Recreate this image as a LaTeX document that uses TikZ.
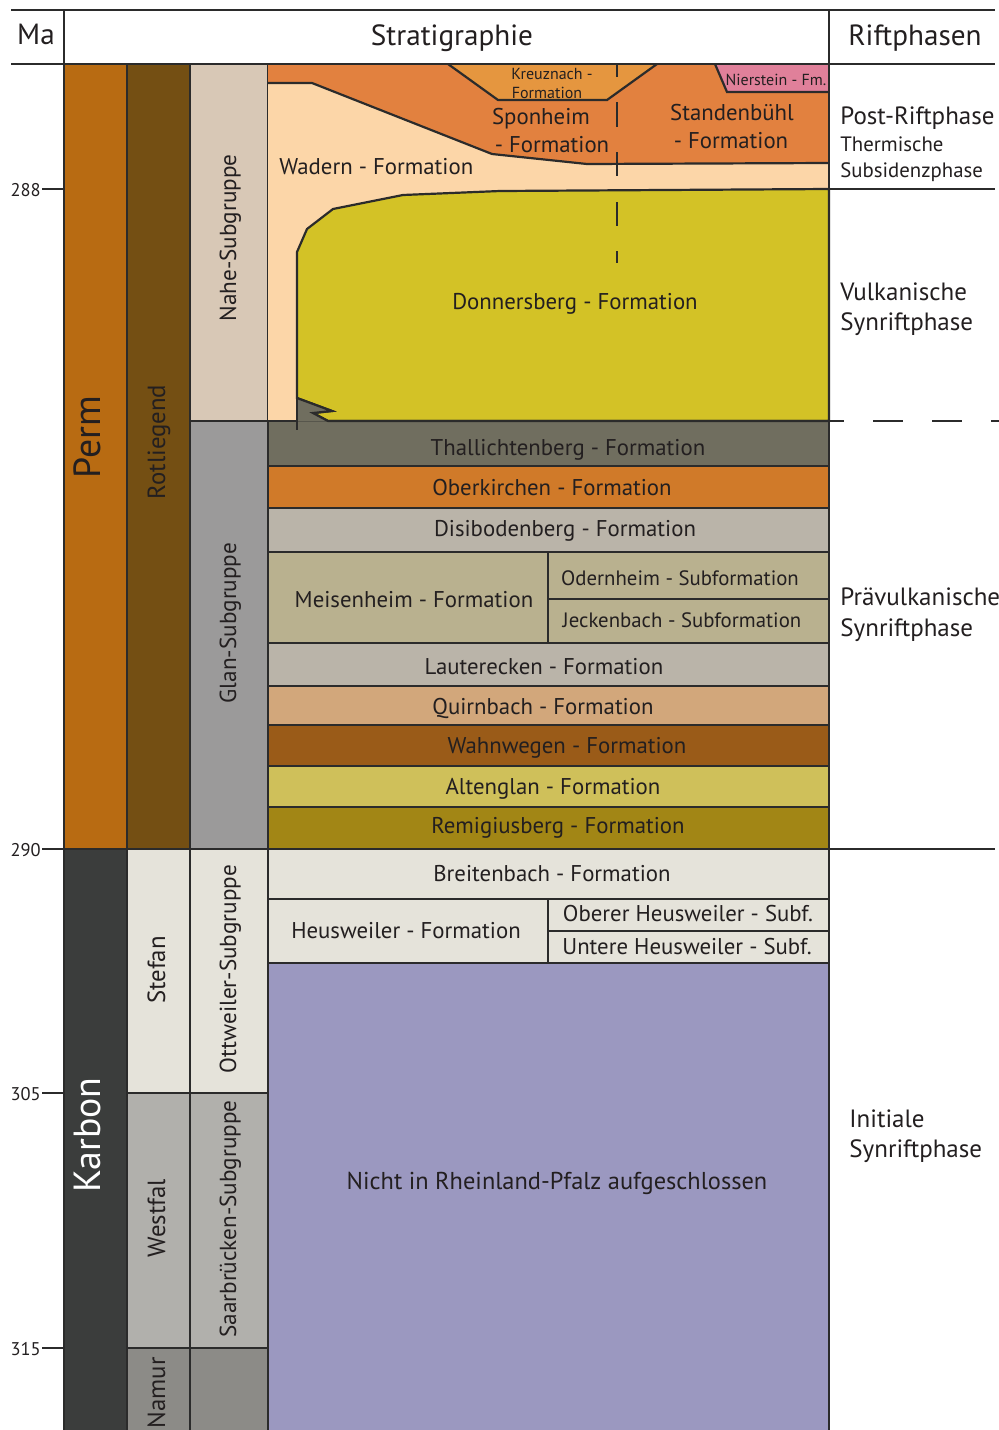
\documentclass[tikz,border=0pt]{standalone}
\usepackage{fontspec}
\setmainfont{PT Sans}
\definecolor{ink}{HTML}{231F20}
\definecolor{edge}{HTML}{2B2B2B}
\definecolor{cPerm}{HTML}{B86B12}
\definecolor{cRotl}{HTML}{744F13}
\definecolor{cNahe}{HTML}{D8C8B6}
\definecolor{cGlan}{HTML}{9B9A9A}
\definecolor{cKarb}{HTML}{3B3D3C}
\definecolor{cStef}{HTML}{E5E3DA}
\definecolor{cWest}{HTML}{B1B0AC}
\definecolor{cNamur}{HTML}{8C8B87}
\definecolor{cNicht}{HTML}{9B98C0}
\definecolor{cThal}{HTML}{706E5F}
\definecolor{cOber}{HTML}{D07A29}
\definecolor{cDisi}{HTML}{BAB4A9}
\definecolor{cMeis}{HTML}{B9B18F}
\definecolor{cQuir}{HTML}{D2A77B}
\definecolor{cWahn}{HTML}{9A5B18}
\definecolor{cAlte}{HTML}{CFC05A}
\definecolor{cRemi}{HTML}{A28615}
\definecolor{cSpon}{HTML}{E2813F}
\definecolor{cKreu}{HTML}{E5963F}
\definecolor{cNier}{HTML}{E0809A}
\definecolor{cWad}{HTML}{FCD6A8}
\definecolor{cDonn}{HTML}{D3C226}
\begin{document}
\begin{tikzpicture}[x=0.5pt,y=-0.5pt,
  blk/.style={draw=edge,line width=1.1pt},
  rule/.style={draw=edge,line width=1.1pt},
  txt/.style={inner sep=0pt,text=ink,text height=0.7em,text depth=0pt,
    font=\fontsize{11.4}{13}\selectfont},
  small/.style={txt,font=\fontsize{10.4}{12}\selectfont},
  tiny/.style={txt,font=\fontsize{8}{9}\selectfont},
  head/.style={txt,font=\fontsize{14.6}{16}\selectfont},
  side/.style={txt,anchor=west,font=\fontsize{12.5}{14}\selectfont},
  vert/.style={txt,rotate=90,font=\fontsize{11.6}{13}\selectfont},
  era/.style={vert,font=\fontsize{12.4}{14}\selectfont},
  big/.style={txt,rotate=90,font=\fontsize{18.9}{21}\selectfont},
  tick/.style={txt,anchor=east,font=\fontsize{9.2}{11}\selectfont}]
\useasboundingbox (0,0) rectangle (999,1430);
\fill[white] (0,0) rectangle (999,1430);

% ---------- chronostratigraphic columns ----------
\draw[blk,fill=cPerm] (64,64) rectangle (127,849);
\draw[blk,fill=cKarb] (64,849) rectangle (127,1440);
\draw[blk,fill=cRotl] (127,64) rectangle (190,849);
\draw[blk,fill=cStef] (127,849) rectangle (190,1093);
\draw[blk,fill=cWest] (127,1093) rectangle (190,1348);
\draw[blk,fill=cNamur] (127,1348) rectangle (190,1440);
\draw[blk,fill=cNahe] (190,64) rectangle (268,421);
\draw[blk,fill=cGlan] (190,421) rectangle (268,849);
\draw[blk,fill=cStef] (190,849) rectangle (268,1093);
\draw[blk,fill=cWest] (190,1093) rectangle (268,1348);
\draw[blk,fill=cNamur] (190,1348) rectangle (268,1440);

\node[big] (perm) at (93,437) {Perm};
\node[big,text=white] (karbon) at (93,1135) {Karbon};
\node[era] (rotl) at (158,442) {Rotliegend};
\node[era] (stefan) at (158,970) {Stefan};
\node[era] (westfal) at (158,1218) {Westfal};
\node[era] (namur) at (158,1393) {Namur};
\node[vert] (nahe) at (229,238) {Nahe-Subgruppe};
\node[vert] (glan) at (229,623) {Glan-Subgruppe};
\node[vert] (ottw) at (229,969) {Ottweiler-Subgruppe};
\node[vert] (saar) at (229,1219) {Saarbrücken-Subgruppe};

% ---------- upper Nahe units ----------
\fill[cSpon] (268,64) rectangle (829,189);
% Wadern
\fill[cWad] (268,83) -- (312,83) -- (492,154) -- (587,164) -- (829,163)
  -- (829,421) -- (268,421) -- cycle;
\draw[rule] (268,83) -- (312,83) -- (492,154) -- (587,164) -- (829,163);
% Donnersberg
\draw[blk,fill=cDonn] (297,252) -- (297,398) -- (332,411) -- (313,413) -- (328,421)
  -- (829,421) -- (829,189) -- (500,191) -- (403,195) -- (333,209)
  -- (307,229) -- cycle;
% Kreuznach and Nierstein
\fill[cKreu] (448,64) -- (498,100) -- (607,100) -- (657,64) -- cycle;
\draw[rule] (448,64) -- (498,100) -- (607,100) -- (657,64);
\fill[cNier] (715,64) -- (727,92) -- (829,92) -- (829,64) -- cycle;
\draw[rule] (715,64) -- (727,92) -- (829,92);
% dashed boundary between Sponheim and Standenbühl
\foreach \a/\b in {64/77,102/127,152/176,202/226,251/263}
  \draw[rule] (617,\a) -- (617,\b);

\node[tiny] (kreuz1) at (552,72) {Kreuznach -};
\node[tiny] (kreuz2) at (547,91) {Formation};
\node[tiny] (nier) at (776,78) {Nierstein - Fm.};
\node[txt] (spon1) at (541,117) {Sponheim};
\node[txt] (spon2) at (552,145) {- Formation};
\node[txt] (stand1) at (732,113) {Standenbühl};
\node[txt] (stand2) at (731,141) {- Formation};
\node[txt,anchor=west] (wad) at (279,167) {Wadern - Formation};
\node[txt] (donn) at (575,302) {Donnersberg - Formation};

% ---------- Glan units ----------
\draw[blk,fill=cThal] (268,421) rectangle (829,466);
\fill[cThal] (297,398) -- (332,411) -- (313,413) -- (328,421.5) -- (297,421.5) -- cycle;
\draw[rule] (297,252) -- (297,430);
\draw[rule] (297,398) -- (332,411) -- (313,413) -- (328,421) -- (829,421);
\draw[blk,fill=cOber] (268,466) rectangle (829,508);
\draw[blk,fill=cDisi] (268,508) rectangle (829,552);
\draw[blk,fill=cMeis] (268,552) rectangle (829,643);
\draw[rule] (548,552) -- (548,643) (548,599) -- (829,599);
\draw[blk,fill=cDisi] (268,643) rectangle (829,686);
\draw[blk,fill=cQuir] (268,686) rectangle (829,725);
\draw[blk,fill=cWahn] (268,725) rectangle (829,766);
\draw[blk,fill=cAlte] (268,766) rectangle (829,807);
\draw[blk,fill=cRemi] (268,807) rectangle (829,849);

\node[txt] (thal) at (568,448) {Thallichtenberg - Formation};
\node[txt] (ober) at (552,488) {Oberkirchen - Formation};
\node[txt] (disi) at (565,529) {Disibodenberg - Formation};
\node[txt] (meis) at (414,600) {Meisenheim - Formation};
\node[small] (odern) at (680,578) {Odernheim - Subformation};
\node[small] (jeck) at (682,620) {Jeckenbach - Subformation};
\node[txt] (laut) at (544,667) {Lauterecken - Formation};
\node[txt] (quirn) at (543,707) {Quirnbach - Formation};
\node[txt] (wahn) at (567,746) {Wahnwegen - Formation};
\node[txt] (alten) at (553,787) {Altenglan - Formation};
\node[txt] (remi) at (558,826) {Remigiusberg - Formation};

% ---------- Carboniferous units ----------
\draw[blk,fill=cStef] (268,849) rectangle (829,899);
\draw[blk,fill=cStef] (268,899) rectangle (829,963);
\draw[rule] (548,899) -- (548,963) (548,931) -- (829,931);
\draw[blk,fill=cNicht] (268,963) rectangle (829,1440);

\node[txt] (breit) at (552,874) {Breitenbach - Formation};
\node[txt] (heus) at (406,931) {Heusweiler - Formation};
\node[txt] (oheus) at (688,914) {Oberer Heusweiler - Subf.};
\node[txt] (uheus) at (687,947) {Untere Heusweiler - Subf.};
\node[txt,font=\fontsize{12.2}{14}\selectfont] (nicht) at (557,1182)
  {Nicht in Rheinland-Pfalz aufgeschlossen};

% ---------- frame, header and time scale ----------
\draw[rule] (11,10) -- (995,10);
\draw[rule] (11,64) -- (995,64);
\draw[rule] (64,10) -- (64,1440);
\draw[rule] (829,10) -- (829,1440);
\draw[rule] (829,189) -- (995,189);
\draw[rule] (829,849) -- (995,849);
\draw[rule,dash pattern=on 15pt off 14.5pt,dash phase=7.5pt] (829,421) -- (999,421);

\node[head] (ma) at (36,37) {Ma};
\node[head] (strat) at (452,38) {Stratigraphie};
\node[head] (rift) at (915,38) {Riftphasen};

\foreach \v/\y in {288/189,290/849,305/1093,315/1348}{
  \draw[rule] (42,\y) -- (64,\y);
  \node[tick] (ma\v) at (41,\y) {\v};
}

% ---------- rift phases ----------
\node[side] (post) at (840,117) {Post-Riftphase};
\node[small,anchor=west] (therm) at (840,144) {Thermische};
\node[small,anchor=west] (subs) at (840,170) {Subsidenzphase};
\node[side] (vulk1) at (840,293) {Vulkanische};
\node[side] (vulk2) at (840,323) {Synriftphase};
\node[side] (prae1) at (840,598) {Prävulkanische};
\node[side] (prae2) at (840,629) {Synriftphase};
\node[side] (init1) at (849,1120) {Initiale};
\node[side] (init2) at (849,1150) {Synriftphase};
\end{tikzpicture}
\end{document}
